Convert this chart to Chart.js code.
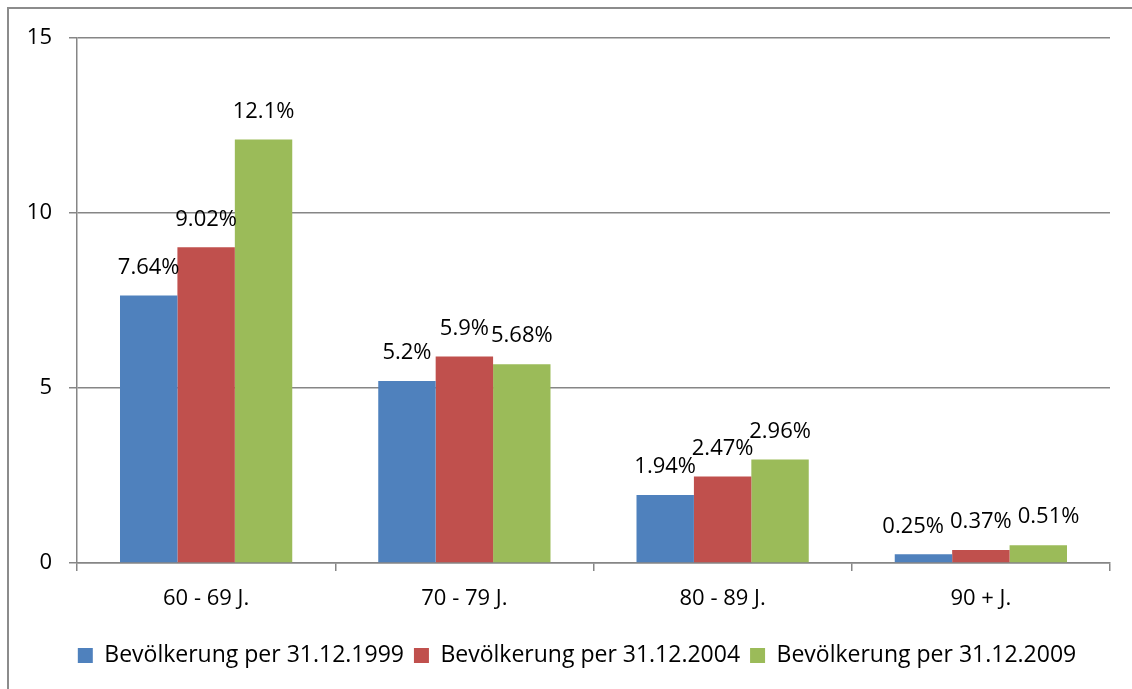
<!DOCTYPE html>
<html>
<head>
<meta charset="utf-8">
<script src="https://cdn.jsdelivr.net/npm/chart.js@4"></script>
<style>
  html, body { margin: 0; padding: 0; background: #fff; overflow: hidden; }
  #wrap { position: relative; width: 1132px; height: 689px; }
  #rahmen {
    position: absolute; left: 7px; top: 7px; width: 1200px; height: 800px;
    border-left: 2px solid #8c8c8c; border-top: 2px solid #8c8c8c;
  }
  canvas { position: absolute; left: 0; top: 0; }
</style>
</head>
<body>
<div id="wrap">
  <div id="rahmen"></div>
  <canvas id="myChart" width="1132" height="689"></canvas>
</div>
<script>
// Altersgruppen (Kategorien)
const kategorien = ["60 - 69 J.", "70 - 79 J.", "80 - 89 J.", "90 + J."];

// Anteile in % je Stichtag
const bev1999 = [7.64, 5.2, 1.94, 0.25];
const bev2004 = [9.02, 5.9, 2.47, 0.37];
const bev2009 = [12.1, 5.68, 2.96, 0.51];

const serienNamen = [
  "Bevölkerung per 31.12.1999",
  "Bevölkerung per 31.12.2004",
  "Bevölkerung per 31.12.2009",
];
const yTicks = [0, 5, 10, 15];

const schrift = "'Open Sans', 'Noto Sans', sans-serif";
const grau = "#868686";

// Beschriftung der Balken (Werte mit %)
// Wenn Labels fast gleich hoch liegen und sich ueberlappen, werden die
// aeusseren nach links/rechts geschoben
const wertLabels = {
  id: "wertLabels",
  afterDatasetsDraw(chart) {
    const ctx = chart.ctx;
    ctx.save();
    ctx.font = "22px " + schrift;
    ctx.fillStyle = "#000";
    ctx.textAlign = "center";
    ctx.textBaseline = "middle";
    const n = chart.data.labels.length;
    const anz = chart.data.datasets.length;
    for (let j = 0; j < n; j++) {
      const items = [];
      for (let i = 0; i < anz; i++) {
        const bar = chart.getDatasetMeta(i).data[j];
        const txt = chart.data.datasets[i].data[j] + "%";
        items.push({ txt: txt, x: bar.x, y: bar.y - 28, w: ctx.measureText(txt).width });
      }
      const mitte = Math.floor(anz / 2);
      const abstand = 6;
      for (let i = mitte - 1; i >= 0; i--) {
        const a = items[i], b = items[i + 1];
        if (Math.abs(a.y - b.y) < 6 && a.x + a.w / 2 + abstand > b.x - b.w / 2) {
          a.x = b.x - b.w / 2 - abstand - a.w / 2;
        }
      }
      for (let i = mitte + 1; i < anz; i++) {
        const a = items[i], b = items[i - 1];
        if (Math.abs(a.y - b.y) < 6 && a.x - a.w / 2 - abstand < b.x + b.w / 2) {
          a.x = b.x + b.w / 2 + abstand + a.w / 2;
        }
      }
      items.forEach((it) => ctx.fillText(it.txt, it.x, it.y));
    }
    ctx.restore();
  },
};

const ctx = document.getElementById("myChart").getContext("2d");
const myChart = new Chart(ctx, {
  type: "bar",
  data: {
    labels: kategorien,
    datasets: [
      { label: serienNamen[0], data: bev1999, backgroundColor: "#4F81BD" },
      { label: serienNamen[1], data: bev2004, backgroundColor: "#C0504D" },
      { label: serienNamen[2], data: bev2009, backgroundColor: "#9BBB59" },
    ],
  },
  options: {
    responsive: false,
    animation: false,
    layout: { padding: { left: 22, right: 0, top: 38, bottom: 12 } },
    datasets: {
      bar: { categoryPercentage: 0.667, barPercentage: 1.0, borderWidth: 0 },
    },
    plugins: {
      tooltip: { enabled: false },
      legend: {
        position: "bottom",
        labels: {
          boxWidth: 15,
          boxHeight: 15,
          padding: 10,
          color: "#000",
          font: { family: schrift, size: 23 },
        },
      },
    },
    scales: {
      x: {
        afterFit: (scale) => { scale.height = 71; },
        grid: {
          offset: true,
          drawOnChartArea: false,
          drawTicks: true,
          tickLength: 8,
          color: grau,
          lineWidth: 1.5,
        },
        border: { display: true, color: grau, width: 1.5 },
        ticks: {
          color: "#000",
          padding: 15,
          font: { family: schrift, size: 22 },
        },
      },
      y: {
        min: 0,
        max: 15,
        afterFit: (scale) => { scale.width = 55; },
        afterBuildTicks: (scale) => {
          scale.ticks = yTicks.map((v) => ({ value: v }));
        },
        grid: {
          color: grau,
          lineWidth: 1.5,
          drawTicks: true,
          tickLength: 8,
        },
        border: { display: true, color: grau, width: 1.5 },
        ticks: {
          color: "#000",
          padding: 17,
          font: { family: schrift, size: 22 },
        },
      },
      // leere Achse rechts, nur als Rand
      rechts: {
        type: "linear",
        position: "right",
        afterFit: (scale) => { scale.width = 22; },
        grid: { display: false },
        border: { display: false },
        ticks: { display: false },
      },
    },
  },
  plugins: [wertLabels],
});
</script>
</body>
</html>
